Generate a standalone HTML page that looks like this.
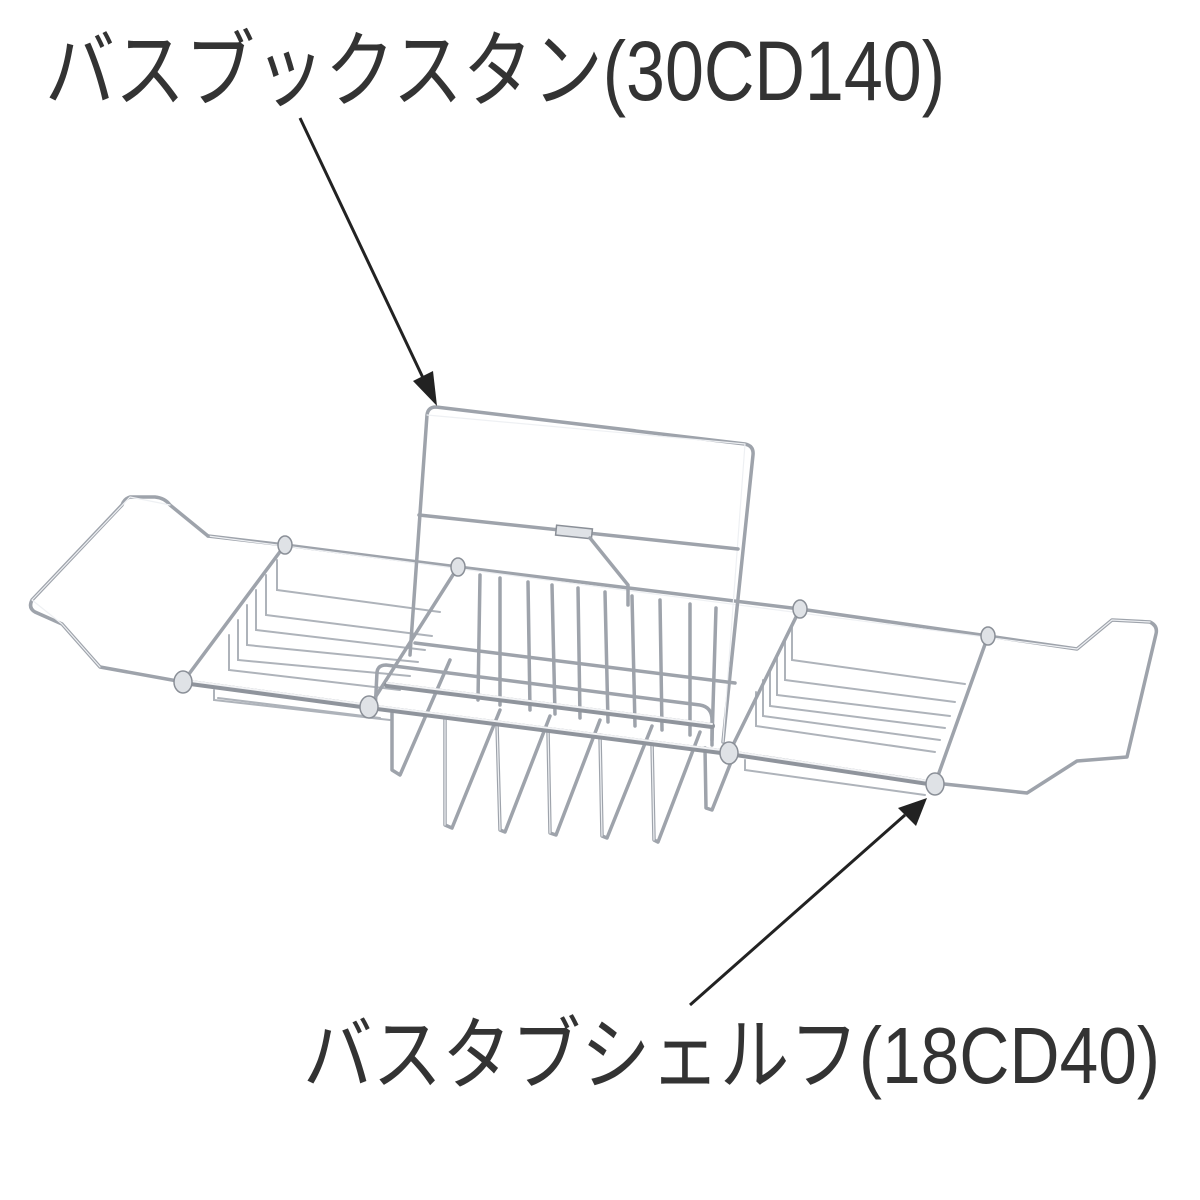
<!DOCTYPE html>
<html><head><meta charset="utf-8"><style>
html,body{margin:0;padding:0;background:#fff;width:1200px;height:1200px;overflow:hidden}
svg{display:block}
.w{fill:none;stroke:#9ea3ab;stroke-width:3.5;stroke-linecap:round;stroke-linejoin:round}
.h{fill:none;stroke:#eef0f3;stroke-width:1.2;stroke-linecap:round;stroke-linejoin:round}
.t{fill:none;stroke:#aeb3ba;stroke-width:2;stroke-linecap:round}
.r{fill:none;stroke:#8f949c;stroke-width:6;stroke-linecap:round}
.rh{fill:none;stroke:#f2f3f5;stroke-width:2;stroke-linecap:round}
.k{fill:#dfe2e6;stroke:#8a8f97;stroke-width:1.5}
text{font-family:"Liberation Sans","Noto Sans CJK JP",sans-serif;fill:#333}
</style></head><body>
<svg width="1200" height="1200" viewBox="0 0 1200 1200">
<text x="45" y="100" font-size="84" textLength="900" lengthAdjust="spacingAndGlyphs">バスブックスタン(30CD140)</text>
<text x="303" y="1083" font-size="80" textLength="857" lengthAdjust="spacingAndGlyphs">バスタブシェルフ(18CD40)</text>

<!-- left small basket inner wires -->
<g class="t">
<path d="M277 560 L277 590 L440 612"/>
<path d="M266 575 L266 615 L432 636"/>
<path d="M256 590 L256 630 L425 650"/>
<path d="M247 605 L247 645 L418 662"/>
<path d="M238 620 L238 660 L410 676"/>
<path d="M229 635 L229 670 L400 690"/>
<path d="M214 690 L214 700 L390 720"/>
<path d="M218 698 L380 718"/>
</g>
<!-- right basket inner wires -->
<g class="t">
<path d="M792 625 L792 660 L965 684"/>
<path d="M785 640 L785 680 L955 702"/>
<path d="M777 655 L777 695 L950 716"/>
<path d="M770 668 L770 706 L945 728"/>
<path d="M763 680 L763 716 L940 740"/>
<path d="M756 692 L756 726 L935 752"/>
<path d="M745 760 L745 770 L925 795"/>
</g>
<!-- center basket fingers -->
<g class="w">
<path d="M480 575 L478 700 M500 578 L500 705 M528 582 L530 710 M552 585 L555 714 M578 588 L580 718 M605 592 L608 722 M632 596 L635 726 M660 600 L662 730 M690 604 L690 735 M716 608 L712 740"/>
<path d="M392 712 L392 770 L400 775 L450 660"/>
<path d="M445 718 L445 825 L452 828 L500 710"/>
<path d="M497 724 L500 830 L505 832 L550 716"/>
<path d="M548 730 L550 833 L556 835 L600 720"/>
<path d="M600 735 L602 836 L607 838 L652 726"/>
<path d="M652 742 L654 840 L658 842 L700 732"/>
<path d="M705 748 L706 808 L712 810 L735 752"/>
</g>
<g class="h">
<path d="M445 718 L445 825 M497 724 L500 830 M548 730 L550 833 M600 735 L602 836 M652 742 L654 840"/>
</g>
<!-- back rail -->
<path class="w" d="M208 536 L285 545 L458 567 L800 609 L988 636 L1077 649 L1112 620 L1150 622 Q1158 626 1156 634 L1127 757 L1077 761 L1027 793 L935 783"/>
<path class="h" d="M208 536 L1077 649 L1112 620 L1150 622"/>
<path class="w" d="M208 536 L170 505 Q165 498 155 497 L130 497 Q124 499 122 505 L32 600 Q28 608 35 612 L62 624 L100 667 L183 682"/>
<path class="h" d="M170 505 L130 497 L32 600 L62 624 L100 667"/>
<!-- front rail -->
<path class="r" d="M183 682 L369 707 L729 753 L935 784"/>
<path class="rh" d="M183 680 L369 705 L729 751 L935 782"/>
<!-- side bars -->
<path class="w" d="M183 682 L285 545 M369 707 L458 567 M729 753 L800 609 M935 784 L988 636"/>
<!-- bookstand frame -->
<path class="w" d="M410 655 L427 415 Q428 407 436 407 L745 444 Q754 446 753 455 L723 742"/>
<path class="h" d="M427 415 L745 444 L723 742"/>
<path class="w" d="M419 515 L738 549"/>
<rect x="556" y="527" width="36" height="10" class="k" transform="rotate(6 574 532)"/>
<path class="w" d="M590 538 L628 585 L628 605"/>
<!-- front bookstand bar -->
<path class="w" d="M375 712 L377 672 Q378 665 386 665 L700 705 Q712 707 712 720 L712 745"/>
<path class="r" d="M387 685 L712 726"/>
<path class="rh" d="M387 683 L712 724"/>
<path class="w" d="M415 643 L735 683"/>
<!-- knobs -->
<ellipse class="k" cx="183" cy="682" rx="9" ry="11"/>
<ellipse class="k" cx="369" cy="707" rx="9" ry="11"/>
<ellipse class="k" cx="729" cy="753" rx="9" ry="11"/>
<ellipse class="k" cx="935" cy="784" rx="9" ry="11"/>
<ellipse class="k" cx="285" cy="545" rx="7" ry="9"/>
<ellipse class="k" cx="458" cy="567" rx="7" ry="9"/>
<ellipse class="k" cx="800" cy="609" rx="7" ry="9"/>
<ellipse class="k" cx="988" cy="636" rx="7" ry="9"/>
<!-- arrows -->
<line x1="300" y1="118" x2="424" y2="380" stroke="#222" stroke-width="3"/>
<polygon points="437,406 413,381 433,371" fill="#222"/>
<line x1="690" y1="1005" x2="905" y2="815" stroke="#222" stroke-width="3"/>
<polygon points="927,798 916,826 898,808" fill="#222"/>
</svg>
</body></html>
